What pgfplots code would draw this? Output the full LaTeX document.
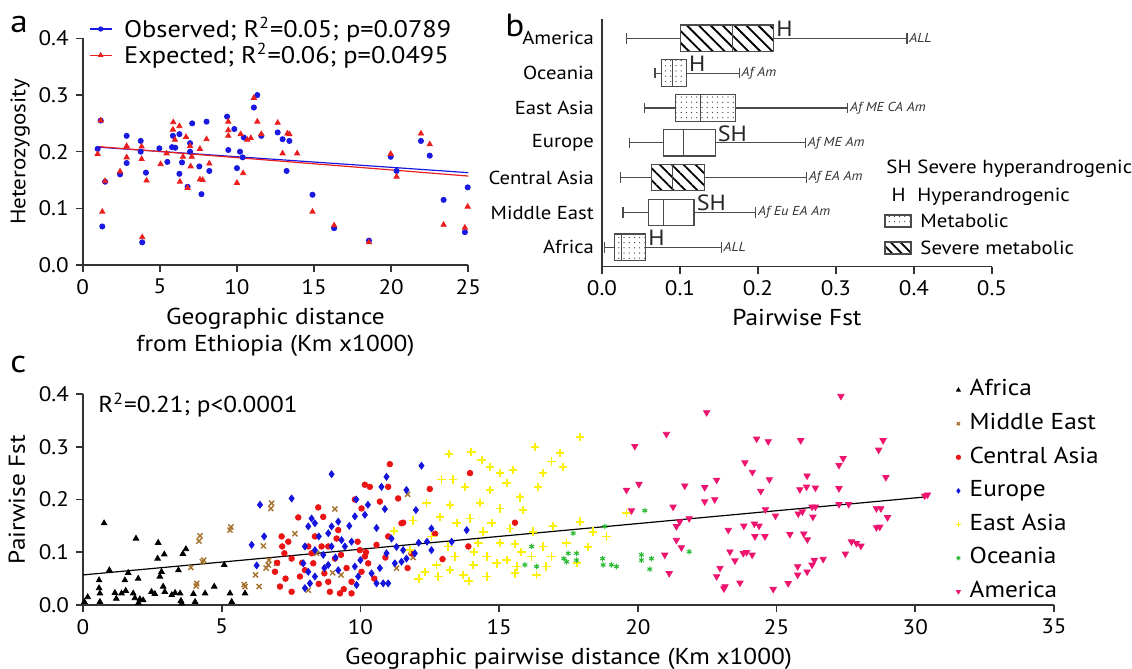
\documentclass[border=0pt]{standalone}
\usepackage{fontspec}
\setmainfont{PT Sans}[FakeStretch=1.1]
\usepackage{pgfplots}
\pgfplotsset{compat=1.18}
\usepgfplotslibrary{statistics}
\usetikzlibrary{patterns.meta}

\definecolor{obsblue}{RGB}{25,25,225}
\definecolor{expred}{RGB}{235,30,30}
\definecolor{mebrown}{RGB}{165,115,45}
\definecolor{carred}{RGB}{235,20,20}
\definecolor{eublue}{RGB}{20,20,220}
\definecolor{eayellow}{RGB}{250,240,10}
\definecolor{ocgreen}{RGB}{40,185,50}
\definecolor{ampink}{RGB}{236,20,110}
\definecolor{boxgray}{RGB}{75,75,75}

\pgfplotsset{
  panel/.style={
    scale only axis, anchor=south west, clip=false,
    axis lines=left,
    axis line style={-, line width=0.8pt, black!80},
    tick style={line width=0.8pt, black!80},
    tick align=outside, major tick length=3.5pt,
    tick label style={font=\fontsize{10.5}{12}\selectfont},
    label style={font=\fontsize{11.5}{13.5}\selectfont},
    /pgf/number format/assume math mode=true,
  },
  onedec/.style={/pgf/number format/fixed, /pgf/number format/fixed zerofill,
    /pgf/number format/precision=1},
  bx/.style={boxgray, line width=0.6pt, solid,
    boxplot/box extend=0.76, boxplot/whisker extend=0.3},
  hatch/.style={boxplot/every box/.append style={pattern={Lines[angle=-45,distance=4.2pt,line width=0.9pt]}, pattern color=black}},
  dotted box/.style={boxplot/every box/.append style={pattern={Dots[distance=2.6pt,radius=0.32pt]}, pattern color=black!80}},
}
\tikzset{
  note/.style={font=\fontsize{6.5}{7}\selectfont\itshape, anchor=west, inner sep=1pt, text=black!80},
  grp/.style={font=\fontsize{11}{12}\selectfont, anchor=base west, inner sep=0.8pt, text=black!85},
}

\begin{document}
\begin{tikzpicture}
\useasboundingbox (0,0) rectangle (566pt,334.5pt);

% ---- panel a
\begin{axis}[panel,
  at={(41.35pt,202pt)}, width=192.8pt, height=113.3pt,
  xmin=0, xmax=25, ymin=0, ymax=0.4,
  xtick={0,5,10,15,20,25}, ytick={0,0.1,0.2,0.3,0.4},
  yticklabel style={onedec},
  ylabel={Heterozygosity},
  ylabel style={font=\fontsize{10.5}{12}\selectfont}, ylabel shift=-2.5pt,
  xlabel={Geographic distance\\from Ethiopia (Km x1000)},
  xlabel style={align=center},
  legend cell align=left,
  legend style={at={(0.0,1.125)}, anchor=north west, draw=none, fill=none,
    font=\fontsize{12}{13}\selectfont, row sep=-1.5pt,
    nodes={inner sep=1.5pt}},
]
\addplot[only marks, mark=*, mark size=1.3pt, obsblue,
  legend image code/.code={\draw[obsblue, line width=0.6pt] (0pt,0pt) -- (11pt,0pt); \fill[obsblue] (5.5pt,0pt) circle (1.1pt); \path (15.5pt,0pt);}]
  coordinates {(0.97,0.205) (1.17,0.255) (1.27,0.068) (1.45,0.147) (2.42,0.16) (2.85,0.228) (2.85,0.18) (3.76,0.219) (3.76,0.2) (3.86,0.04) (4.1,0.163) (4.97,0.206) (5.49,0.182) (5.79,0.208) (5.85,0.228) (6.0,0.207) (6.27,0.231) (6.27,0.161) (6.44,0.181) (6.8,0.138) (6.96,0.215) (6.96,0.2) (7.1,0.25) (7.56,0.174) (7.7,0.125) (8.03,0.253) (8.21,0.166) (9.36,0.262) (9.44,0.203) (9.83,0.24) (10.0,0.171) (10.2,0.2) (10.37,0.19) (10.45,0.225) (11.1,0.278) (11.32,0.3) (11.58,0.228) (12.64,0.234) (12.96,0.222) (13.22,0.166) (13.4,0.219) (14.9,0.124) (16.3,0.065) (18.56,0.043) (19.97,0.191) (20.35,0.166) (21.93,0.219) (22.5,0.193) (23.4,0.115) (24.78,0.058) (24.96,0.137)};
\addlegendentry{Observed; R\textsuperscript{2}=0.05; p=0.0789}
\addplot[only marks, mark=triangle*, mark size=1.5pt, expred,
  legend image code/.code={\draw[expred, line width=0.6pt] (0pt,0pt) -- (11pt,0pt); \fill[expred] (5.5pt,1.2pt) -- (4.4pt,-0.7pt) -- (6.6pt,-0.7pt) -- cycle; \path (15.5pt,0pt);}]
  coordinates {(0.97,0.196) (1.17,0.255) (1.27,0.094) (1.45,0.148) (2.42,0.165) (2.85,0.21) (2.85,0.19) (3.82,0.209) (3.82,0.187) (3.86,0.049) (4.14,0.149) (5.05,0.178) (5.44,0.197) (5.87,0.252) (5.85,0.239) (5.98,0.221) (6.27,0.245) (6.3,0.147) (6.5,0.191) (6.7,0.226) (6.8,0.136) (6.96,0.21) (7.0,0.174) (7.07,0.191) (7.6,0.205) (7.6,0.151) (7.78,0.15) (8.03,0.222) (8.21,0.179) (9.44,0.253) (9.44,0.238) (9.44,0.228) (10.0,0.145) (10.24,0.231) (10.4,0.162) (10.67,0.221) (10.9,0.224) (11.1,0.295) (11.32,0.253) (11.58,0.231) (12.64,0.251) (12.96,0.197) (13.27,0.232) (13.4,0.231) (13.9,0.197) (14.9,0.094) (16.3,0.07) (18.56,0.04) (19.97,0.196) (20.35,0.156) (21.93,0.232) (22.5,0.213) (23.4,0.071) (24.78,0.066) (24.96,0.103)};
\addlegendentry{Expected; R\textsuperscript{2}=0.06; p=0.0495}
\addplot[obsblue, line width=0.6pt, forget plot] coordinates {(1,0.208) (25,0.163)};
\addplot[expred, line width=0.6pt, forget plot] coordinates {(1,0.209) (25,0.157)};
\end{axis}

% ---- panel b
\begin{axis}[panel,
  at={(301pt,201.15pt)}, width=195pt, height=123.6pt,
  xmin=0, xmax=0.5, ymin=0.443, ymax=7.54,
  xtick={0,0.1,0.2,0.3,0.4,0.5}, xticklabel style={onedec},
  ytick={1,2,3,4,5,6,7},
  yticklabels={Africa,Middle East,Central Asia,Europe,East Asia,Oceania,America},
  yticklabel style={font=\fontsize{9.4}{11}\selectfont, xshift=3pt},
  y tick style={draw=none},
  xlabel={Pairwise Fst},
  boxplot/draw direction=x,
]
\addplot[bx, hatch, boxplot prepared={draw position=7, lower whisker=0.031, lower quartile=0.101, median=0.167, upper quartile=0.220, upper whisker=0.391}] coordinates {};
\addplot[bx, dotted box, boxplot prepared={draw position=6, lower whisker=0.068, lower quartile=0.076, median=0.090, upper quartile=0.108, upper whisker=0.176}] coordinates {};
\addplot[bx, dotted box, boxplot prepared={draw position=5, lower whisker=0.054, lower quartile=0.094, median=0.126, upper quartile=0.171, upper whisker=0.315}] coordinates {};
\addplot[bx, boxplot prepared={draw position=4, lower whisker=0.035, lower quartile=0.079, median=0.104, upper quartile=0.145, upper whisker=0.261}] coordinates {};
\addplot[bx, hatch, boxplot prepared={draw position=3, lower whisker=0.024, lower quartile=0.063, median=0.090, upper quartile=0.131, upper whisker=0.262}] coordinates {};
\addplot[bx, boxplot prepared={draw position=2, lower whisker=0.027, lower quartile=0.060, median=0.079, upper quartile=0.118, upper whisker=0.197}] coordinates {};
\addplot[bx, dotted box, boxplot prepared={draw position=1, lower whisker=0.003, lower quartile=0.016, median=0.025, upper quartile=0.056, upper whisker=0.153}] coordinates {};
\node[grp] at (axis cs:0.221,7.05) {H};
\node[grp] at (axis cs:0.109,6.05) {H};
\node[grp] at (axis cs:0.146,4.05) {SH};
\node[grp] at (axis cs:0.119,2.05) {SH};
\node[grp] at (axis cs:0.057,1.05) {H};
\node[note] at (axis cs:0.391,7) {ALL};
\node[note] at (axis cs:0.176,6) {Af Am};
\node[note] at (axis cs:0.315,5) {Af ME CA Am};
\node[note] at (axis cs:0.261,4) {Af ME Am};
\node[note] at (axis cs:0.262,3) {Af EA Am};
\node[note] at (axis cs:0.197,2) {Af Eu EA Am};
\node[note] at (axis cs:0.153,1) {ALL};
\end{axis}

% legend of panel b
\begin{scope}[font=\fontsize{9.5}{11}\selectfont]
\node[anchor=base east, inner sep=0pt] at (456pt,247.9pt) {SH};
\node[anchor=base west, inner sep=0pt] at (458.5pt,247.9pt) {Severe hyperandrogenic};
\node[anchor=base east, inner sep=0pt] at (453pt,233.7pt) {H};
\node[anchor=base west, inner sep=0pt] at (458.5pt,233.7pt) {Hyperandrogenic};
\draw[boxgray, line width=0.6pt, pattern={Dots[distance=2.6pt,radius=0.32pt]}, pattern color=black!80] (442.5pt,221pt) rectangle (455.5pt,227pt);
\node[anchor=base west, inner sep=0pt] at (460pt,220.5pt) {Metabolic};
\draw[boxgray, line width=0.6pt, pattern={Lines[angle=-45,distance=3.4pt,line width=0.9pt]}, pattern color=black] (442.5pt,207.5pt) rectangle (455.5pt,213.5pt);
\node[anchor=base west, inner sep=0pt] at (460pt,207pt) {Severe metabolic};
\end{scope}

% ---- panel c
\begin{axis}[panel,
  at={(41.5pt,32pt)}, width=485.5pt, height=105.5pt,
  xmin=0, xmax=35, ymin=0, ymax=0.4,
  xtick={0,5,10,15,20,25,30,35}, ytick={0,0.1,0.2,0.3,0.4},
  yticklabel style={onedec},
  xlabel={Geographic pairwise distance (Km x1000)},
  ylabel={Pairwise Fst},
  legend cell align=left,
  legend style={at={(0.892,1.101)}, anchor=north west, draw=none, fill=none,
    font=\fontsize{11.5}{13}\selectfont, row sep=3.8pt,
    nodes={inner sep=1.2pt, text height=8.2pt, text depth=2.4pt}},
  legend image code/.code={\draw[mark size=1.1pt] plot coordinates {(0pt,0pt)}; \path (-1pt,0pt) (4pt,0pt);},
]
\addplot[only marks, mark=triangle*, mark size=1.6pt, black] coordinates {
(0.76,0.155) (1.91,0.126) (2.71,0.118) (2.93,0.096) (2.69,0.088) (3.71,0.106) (3.6,0.097) (0.95,0.066) (1.63,0.061) (1.51,0.047) (1.99,0.05) (0.58,0.047) (0.58,0.032) (0.61,0.022) (0.61,0.006) (0.17,0.015) (0.05,0.006) (1.15,0.023) (1.39,0.022) (1.54,0.027) (1.81,0.022) (1.87,0.013) (2.05,0.011) (2.17,0.009) (2.47,0.025) (2.59,0.021) (2.77,0.054) (2.83,0.063) (2.89,0.035) (2.95,0.025) (3.2,0.019) (3.32,0.023) (3.44,0.066) (3.5,0.022) (3.53,0.008) (3.56,0.003) (3.98,0.021) (4.04,0.006) (4.4,0.022) (4.73,0.035) (5.09,0.076) (5.3,0.022) (5.36,0.006) (5.84,0.022) (2.0,0.004) (1.2,0.012)};
\addlegendentry{Africa}
\addplot[only marks, mark=x, mark size=1.8pt, line width=0.7pt, mebrown] coordinates {
(6.8,0.193) (6.77,0.183) (5.33,0.148) (5.3,0.142) (4.22,0.131) (4.18,0.121) (4.35,0.085) (4.3,0.082) (3.89,0.071) (4.1,0.041) (4.08,0.036) (5.84,0.035) (5.81,0.039) (6.35,0.035) (6.22,0.057) (6.5,0.112) (6.7,0.085) (6.68,0.076) (6.98,0.079) (7.64,0.135) (8.42,0.098) (9.08,0.182) (9.0,0.061) (9.3,0.057) (8.12,0.028) (6.6,0.07) (11.7,0.21) (11.9,0.09) (11.3,0.07)};
\addlegendentry{Middle East}
\addplot[only marks, mark=*, mark size=1.4pt, carred] coordinates {
(7.16,0.13) (7.18,0.111) (7.26,0.098) (7.52,0.088) (6.92,0.063) (7.1,0.035) (7.52,0.025) (7.76,0.166) (7.82,0.054) (8.0,0.066) (8.48,0.185) (8.66,0.167) (8.36,0.13) (8.6,0.111) (8.84,0.044) (8.9,0.025) (9.26,0.022) (9.68,0.022) (9.2,0.142) (9.3,0.095) (9.8,0.2) (10.16,0.228) (10.34,0.224) (10.04,0.183) (9.98,0.104) (10.16,0.092) (10.28,0.079) (10.04,0.063) (9.68,0.044) (11.06,0.267) (11.0,0.224) (11.36,0.202) (10.7,0.196) (11.48,0.155) (11.0,0.13) (10.58,0.114) (8.24,0.098) (8.3,0.079) (8.12,0.111) (8.84,0.111) (9.08,0.088) (9.14,0.126) (13.95,0.25) (12.5,0.22) (11.54,0.156) (15.57,0.156) (12.69,0.135) (13.89,0.111) (12.96,0.087) (11.84,0.098) (7.4,0.12) (7.0,0.08) (7.9,0.08) (8.7,0.06) (9.5,0.07) (9.9,0.12) (10.5,0.05) (10.9,0.09) (11.7,0.07) (7.3,0.05) (8.5,0.04) (9.4,0.03) (10.2,0.1)};
\addlegendentry{Central Asia}
\addplot[only marks, mark=diamond*, mark size=1.7pt, eublue] coordinates {
(8.96,0.248) (7.52,0.202) (6.38,0.19) (6.53,0.13) (6.08,0.114) (6.26,0.075) (10.94,0.243) (10.76,0.224) (10.88,0.182) (9.85,0.2) (10.27,0.19) (9.8,0.168) (10.16,0.171) (8.24,0.164) (8.36,0.155) (8.12,0.149) (8.96,0.149) (9.2,0.158) (8.84,0.136) (9.32,0.123) (8.0,0.111) (8.36,0.104) (8.66,0.095) (8.96,0.111) (9.44,0.111) (9.68,0.12) (7.94,0.079) (8.12,0.063) (8.36,0.054) (8.18,0.041) (8.0,0.032) (8.84,0.076) (9.2,0.066) (9.8,0.073) (9.92,0.054) (9.86,0.038) (10.58,0.041) (10.82,0.041) (11.0,0.041) (10.58,0.146) (11.12,0.126) (10.7,0.07) (11.24,0.079) (11.54,0.104) (10.94,0.098) (12.2,0.264) (11.66,0.218) (12.0,0.18) (12.56,0.145) (13.83,0.142) (13.29,0.12) (12.4,0.12) (12.1,0.118) (12.56,0.104) (11.48,0.082) (11.66,0.088) (11.96,0.098) (8.5,0.13) (9.1,0.09) (10.4,0.06) (11.3,0.11) (9.6,0.15) (8.7,0.07) (10.0,0.085)};
\addlegendentry{Europe}
\addplot[only marks, mark=+, mark size=2.1pt, line width=0.9pt, eayellow] coordinates {
(17.91,0.319) (16.29,0.299) (17.19,0.288) (14.0,0.29) (13.2,0.286) (14.37,0.275) (16.89,0.272) (17.31,0.262) (14.67,0.262) (15.03,0.25) (15.51,0.256) (12.92,0.238) (13.34,0.238) (16.59,0.25) (15.27,0.231) (16.41,0.224) (13.76,0.224) (14.67,0.218) (15.75,0.204) (13.23,0.19) (14.3,0.193) (12.38,0.193) (15.03,0.183) (15.87,0.18) (13.95,0.164) (12.87,0.167) (13.47,0.155) (14.73,0.155) (15.39,0.145) (16.23,0.139) (16.95,0.149) (17.91,0.158) (18.39,0.139) (18.87,0.13) (14.43,0.139) (12.56,0.13) (13.17,0.111) (14.25,0.117) (15.03,0.117) (15.57,0.116) (16.59,0.111) (17.43,0.117) (13.41,0.092) (14.55,0.092) (15.27,0.085) (16.17,0.092) (16.89,0.092) (12.74,0.076) (14.07,0.076) (14.91,0.079) (15.63,0.073) (16.7,0.073) (12.32,0.063) (13.23,0.066) (13.71,0.057) (14.55,0.054) (15.57,0.06) (16.35,0.057) (12.81,0.054) (19.59,0.174) (11.78,0.104) (11.2,0.14) (11.9,0.16) (12.1,0.05) (13.9,0.045) (14.1,0.1) (15.8,0.1) (17.8,0.08) (18.2,0.11)};
\addlegendentry{East Asia}
\addplot[only marks, mark=asterisk, mark size=1.4pt, line width=0.5pt, ocgreen] coordinates {
(16.17,0.111) (15.93,0.076) (16.35,0.073) (17.33,0.088) (17.49,0.098) (17.79,0.098) (17.43,0.082) (17.79,0.085) (18.81,0.149) (18.73,0.088) (18.75,0.076) (19.05,0.076) (19.23,0.073) (20.13,0.095) (20.13,0.085) (20.49,0.088) (20.43,0.068) (20.25,0.179) (21.85,0.101) (17.67,0.136)};
\addlegendentry{Oceania}
\addplot[only marks, mark=triangle*, mark size=1.8pt, mark options={rotate=180}, ampink] coordinates {
(22.48,0.365) (21.03,0.324) (19.89,0.301) (20.04,0.229) (19.59,0.218) (19.77,0.179) (21.69,0.226) (22.41,0.223) (22.84,0.237) (22.41,0.196) (22.77,0.2) (21.27,0.186) (21.85,0.164) (21.39,0.149) (21.51,0.158) (21.39,0.123) (21.57,0.109) (20.97,0.095) (21.13,0.06) (22.96,0.07) (22.84,0.054) (23.1,0.031) (23.26,0.142) (27.32,0.396) (24.28,0.315) (24.7,0.31) (25.87,0.312) (28.84,0.312) (28.68,0.294) (27.4,0.278) (27.25,0.265) (23.86,0.27) (24.13,0.252) (28.94,0.242) (24.74,0.238) (26.1,0.245) (24.43,0.216) (25.84,0.219) (26.08,0.224) (26.4,0.222) (27.25,0.221) (30.34,0.207) (30.44,0.209) (24.6,0.181) (24.96,0.169) (25.78,0.173) (25.93,0.177) (26.28,0.186) (26.4,0.186) (26.31,0.167) (27.25,0.191) (27.6,0.191) (28.6,0.183) (28.76,0.183) (29.0,0.166) (28.6,0.147) (28.72,0.148) (23.82,0.15) (24.2,0.154) (24.37,0.15) (24.22,0.13) (24.58,0.13) (25.48,0.134) (25.98,0.135) (26.11,0.124) (27.7,0.12) (27.88,0.117) (28.04,0.112) (23.32,0.101) (23.5,0.084) (23.8,0.098) (23.92,0.1) (24.12,0.095) (27.48,0.097) (26.68,0.087) (26.36,0.085) (26.28,0.076) (25.76,0.073) (26.1,0.063) (25.76,0.057) (25.42,0.041) (24.88,0.03) (23.68,0.042) (23.14,0.035)};
\addlegendentry{America}
\addplot[black, line width=0.6pt, forget plot] coordinates {(0,0.057) (30.4,0.205)};
\end{axis}

\node[font=\fontsize{11.5}{13}\selectfont, anchor=base west, inner sep=0pt] at (49pt,128pt) {R\textsuperscript{2}=0.21; p<0.0001};
\node[font=\fontsize{16}{16}\selectfont, anchor=base west, inner sep=0pt] at (5pt,318pt) {a};
\node[font=\fontsize{16}{16}\selectfont, anchor=base west, inner sep=0pt] at (252.5pt,316pt) {b};
\node[font=\fontsize{16}{16}\selectfont, anchor=base west, inner sep=0pt] at (5pt,148pt) {c};
\end{tikzpicture}
\end{document}
